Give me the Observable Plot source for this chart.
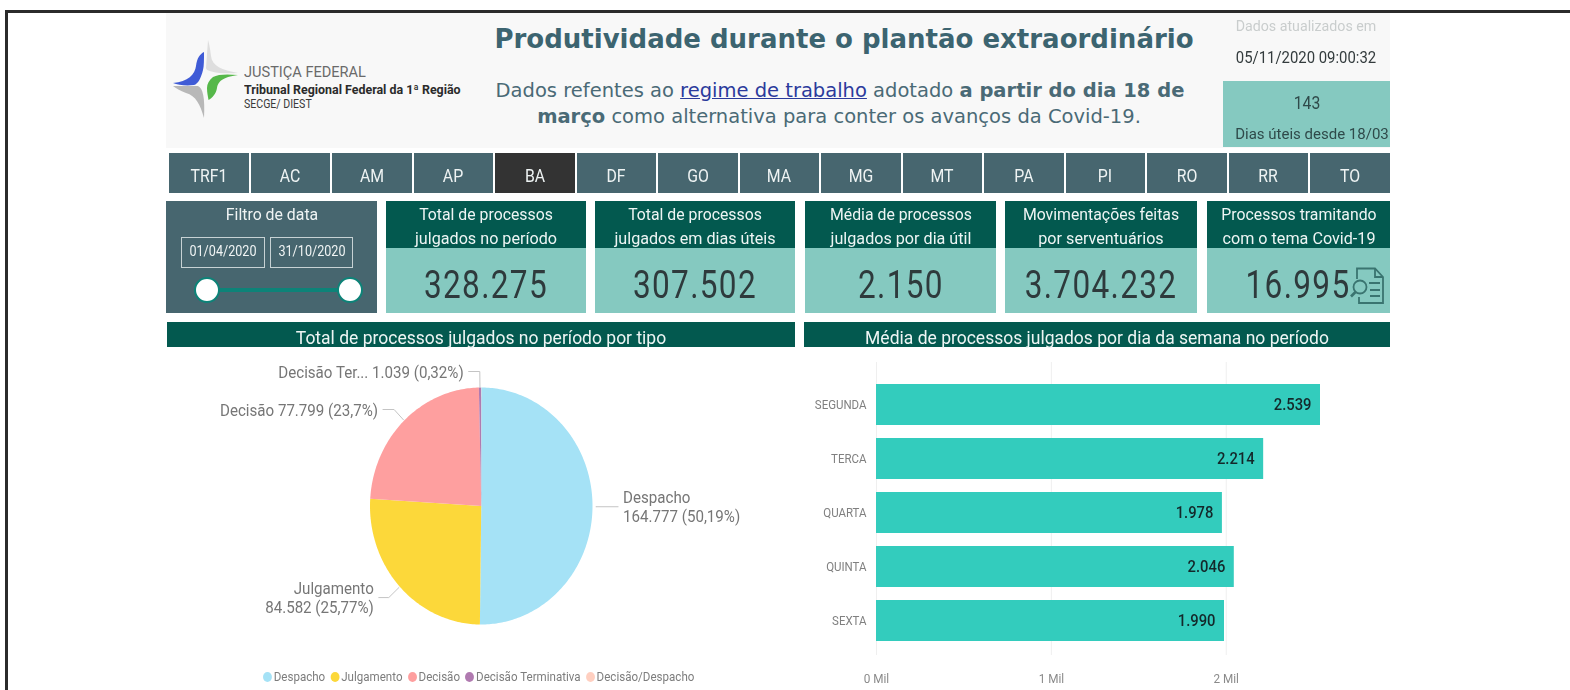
<!DOCTYPE html>
<html lang="pt">
<head>
<meta charset="utf-8">
<script src="https://cdn.jsdelivr.net/npm/d3@7"></script>
<script src="https://cdn.jsdelivr.net/npm/@observablehq/plot@0.6"></script>
<style>
html,body{margin:0;padding:0;background:#fff;overflow:hidden}
#page{position:relative;width:1570px;height:690px;overflow:hidden;font-family:"Roboto",sans-serif;filter:blur(.6px)}
.a{position:absolute}
.c{position:absolute;text-align:center;white-space:nowrap}
.plot{position:absolute}
.plot svg{background:transparent;display:block;overflow:visible}
</style>
</head>
<body>
<div id="page"></div>
<script>
// ---- data ----
const sliceNames = ["Despacho","Julgamento","Decisão","Decisão Terminativa","Decisão/Despacho"];
const sliceValues = [164777,84582,77799,1039,78];
const sliceColors = ["#a5e2f6","#fcd83a","#fe9f9f","#b07ab0","#ffcfc0"];
const sliceLabels = ["Despacho\n164.777 (50,19%)","Julgamento\n84.582 (25,77%)","Decisão 77.799 (23,7%)","Decisão Ter... 1.039 (0,32%)",""];
const days = ["SEGUNDA","TERCA","QUARTA","QUINTA","SEXTA"];
const dayValues = [2539,2214,1978,2046,1990];
const dayLabels = ["2.539","2.214","1.978","2.046","1.990"];
const tabs = ["TRF1","AC","AM","AP","BA","DF","GO","MA","MG","MT","PA","PI","RO","RR","TO"];
const cardTitles = [["Total de processos","julgados no período"],["Total de processos","julgados em dias úteis"],["Média de processos","julgados por dia útil"],["Movimentações feitas","por serventuários"],["Processos tramitando","com o tema Covid-19"]];
const cardValues = ["328.275","307.502","2.150","3.704.232","16.995"];

// ---- layout ----
const page = document.getElementById("page");
function box(x,y,w,h,bg){const d=document.createElement("div");d.className="a";d.style.cssText=`left:${x}px;top:${y}px;width:${w}px;height:${h}px;background:${bg}`;page.appendChild(d);return d;}
function text(cx,y,s,size,color,sx=1,extra=""){const d=document.createElement("div");d.className="c";d.style.cssText=`left:${cx-400}px;width:800px;top:${y}px;font-size:${size}px;line-height:${size+2}px;color:${color};transform:scaleX(${sx});${extra}`;d.innerHTML=s;page.appendChild(d);return d;}

// frame
box(5,10,1565,3,"#2b2b2b"); box(5,10,3,680,"#2b2b2b");
// header
box(166,13,1224,135,"#f8f8f8");
const serif='font-family:"DejaVu Sans",sans-serif;';
text(844,25,"Produtividade durante o plantão extraordinário",26,"#3c6470",1,serif+"font-weight:bold");
text(840,80,'Dados refentes ao <u style="color:#2b3a9c">regime de trabalho</u> adotado <b>a partir do dia 18 de</b>',19.5,"#4a6a76",1,serif);
text(839,106,'<b>março</b> como alternativa para conter os avanços da Covid-19.',19.5,"#4a6a76",1,serif);
text(1306,19,"Dados atualizados em",14.5,"#c9cdcd",.98);
text(1306,49,"05/11/2020 09:00:32",16,"#333b3d",.93);
box(1223,81,167,66,"#85c9c0");
text(1307,94,"143",17.5,"#2f4a4a",.9);
text(1312,126,"Dias úteis desde 18/03",15,"#2f4a4a");
// logo
const logo=document.createElement("div");logo.className="a";logo.style.cssText="left:170px;top:38px;width:72px;height:84px";
logo.innerHTML=`<svg width="72" height="84" viewBox="0 0 72 84">
<path d="M38 2L36 30C36 34 50 36 68 35C52 32 42 28 41 18C40 10 39 5 38 2Z" fill="#dedede"/>
<path d="M34 14C34 22 34 28 33 32C31 40 28 46 24 47C16 48 8 47 3 45C18 44 25 36 26 28C27 20 30 16 34 14Z" fill="#3f5bd6"/>
<path d="M68 37C58 36 48 36 43 39C39 42 37 46 37 50C37 55 38 58 38.5 62C42 60 46 56 47 50C48 44 52 39 68 37Z" fill="#56b84a"/>
<path d="M3 48L28 48C33 50 35 60 34 80C30 66 26 58 16 55C10 53 6 50 3 48Z" fill="#b8b8b8"/></svg>`;
page.appendChild(logo);
const lg=(y,s,size,col,sx,ex="")=>{const d=document.createElement("div");d.className="a";d.style.cssText=`left:244px;top:${y}px;font-size:${size}px;color:${col};white-space:nowrap;transform-origin:left;transform:scaleX(${sx});${ex}`;d.textContent=s;page.appendChild(d);};
lg(63,"JUSTIÇA FEDERAL",15.5,"#6a6a6a",.94);
lg(82,"Tribunal Regional Federal da 1ª Região",13,"#2b2b2b",.955,"font-weight:bold");
lg(97,"SECGE/ DIEST",12,"#3a3a3a",.88);
// tabs
tabs.forEach((t,i)=>{const x=169+i*81.5;
  box(x,153,79.8,39.5,t==="BA"?"#333333":"#47666f");
  text(x+39.8,166,t,18,"#eef3f3",.88);});
// filter card
box(166,201,211,112,"#47666f");
text(271.5,206,"Filtro de data",16.5,"#f0f4f4",.96);
[[181,84,"01/04/2020"],[270,83,"31/10/2020"]].forEach(([x,w,s])=>{const b=box(x,237,w-2,29,"transparent");b.style.border="1px solid #c7d2d4";text(x+w/2,244,s,14.5,"#f0f4f4",.87);});
box(207,288,143,4,"#0d8378");
[207,350].forEach(cx=>{const c=box(cx-13,277,26,26,"#fff");c.style.borderRadius="50%";c.style.boxSizing="border-box";c.style.border="2px solid #0d8378";});
// KPI cards
const cardX=[386,595,805,1005,1207], cardW=[200,200,191,192,183];
cardTitles.forEach((t,i)=>{const x=cardX[i],w=cardW[i],cx=x+w/2;
  box(x,201,w,47,"#03594f"); box(x,248,w,65,"#85c9c0");
  text(cx,205,t[0],17,"#eef5f4",.93); text(cx,229,t[1],17,"#eef5f4",.95);
  text(i===4?1298:cx,265,cardValues[i],38,"#2e3a3c",.83,"letter-spacing:1.6px");
});
const icon=document.createElement("div");icon.className="a";icon.style.cssText="left:1348px;top:266px;width:38px;height:40px";
icon.innerHTML=`<svg width="38" height="40" fill="none" stroke="#3a7470" stroke-width="1.8"><path d="M9 13V2.5H27L35 11V37H11V31"/><path d="M27 2.5V11H35M21 17H32M22 24H32M22 30H32"/><circle cx="12" cy="21" r="6.5"/><path d="M7.5 26L3 30.5" stroke-width="2.6"/></svg>`;
page.appendChild(icon);
// section bars
box(167,322,628,25,"#03594f"); box(804,322,586,25,"#03594f");
text(481,329,"Total de processos julgados no período por tipo",17.5,"#eef5f4");
text(1097,329,"Média de processos julgados por dia da semana no período",17.5,"#eef5f4");

// narrows every text of a Plot chart around its own anchor
function narrow(svg,sx){d3.select(svg).selectAll("text").each(function(){const t=this.getAttribute("transform")||"";this.setAttribute("transform",`${t} scale(${sx},1)`);});}

// ---- pie ----
const pieLeft=166,pieTop=350,pieW=628,pieH=340;
const arcs=d3.pie().sort(null).value((d,i)=>sliceValues[i])(sliceNames);
const wedge=[];
arcs.forEach((a,i)=>{
  wedge.push({name:sliceNames[i],px:0,py:0});
  const n=Math.max(2,Math.ceil((a.endAngle-a.startAngle)*60));
  for(let k=0;k<=n;k++){const t=a.startAngle+(a.endAngle-a.startAngle)*k/n;wedge.push({name:sliceNames[i],px:Math.sin(t),py:Math.cos(t)});}
});
const mid=arcs.map(a=>(a.startAngle+a.endAngle)/2);
// leader layout: radial reach per slice and horizontal run (in pie radii)
const reach=[1.03,1.135,1.13,1.135], run=[.2,.09,.1,.1], edge=[1.03,1.01,1.01,1.0];
const leaders=[],labels=[];
arcs.forEach((a,i)=>{
  if(!sliceLabels[i])return;
  const s=Math.sin(mid[i]),c=Math.cos(mid[i]),side=i===0?1:-1;
  const ex=reach[i]*s,ey=reach[i]*c,tx=ex+side*run[i];
  leaders.push({k:i,px:edge[i]*s,py:edge[i]*c},{k:i,px:ex,py:ey},{k:i,px:tx,py:ey});
  labels.push({t:sliceLabels[i],px:tx+side*.045,py:ey,anchor:side>0?"start":"end"});
});
const pie=Plot.plot({
  width:pieW,height:pieH,margin:0,style:{fontFamily:"Roboto"},
  x:{domain:[-1,1],range:[369.5-pieLeft,592-pieLeft],axis:null},
  y:{domain:[-1,1],range:[624-pieTop,387-pieTop],axis:null},
  color:{domain:sliceNames,range:sliceColors},
  marks:[
    Plot.line(wedge,{x:"px",y:"py",z:"name",fill:"name",stroke:null,curve:"linear"}),
    Plot.line(leaders,{x:"px",y:"py",z:"k",stroke:"#c4c4c4",strokeWidth:1}),
    ...["start","end"].map(an=>Plot.text(labels.filter(d=>d.anchor===an),{x:"px",y:"py",text:"t",textAnchor:an,fill:"#767676",fontSize:16,lineHeight:1.2}))
  ]
});
narrow(pie,.945);
const pw=document.createElement("div");pw.className="plot";pw.style.cssText=`left:${pieLeft}px;top:${pieTop}px`;pw.appendChild(pie);page.appendChild(pw);

// legend
const legend=document.createElement("div");legend.className="a";
legend.style.cssText='left:263px;top:669px;display:flex;gap:6px;font-size:13px;color:#7d7d7d;white-space:nowrap;align-items:center;transform-origin:left;transform:scaleX(.89)';
legend.innerHTML=sliceNames.map((n,i)=>`<span style="display:flex;align-items:center;gap:2px"><i style="width:10px;height:10px;border-radius:50%;background:${sliceColors[i]};display:inline-block"></i>${n}</span>`).join("");
page.appendChild(legend);

// ---- bars ----
const barLeft=800,barTop=350,barW=590,barH=340;
const rows=days.map((d,i)=>({day:d,v:dayValues[i],l:dayLabels[i]}));
const bars=Plot.plot({
  width:barW,height:barH,marginTop:12,marginBottom:35,marginLeft:76,marginRight:0,style:{fontFamily:"Roboto"},
  x:{domain:[0,2539],range:[876-barLeft,1320-barLeft]},
  y:{domain:days,range:[377.5-barTop,647.5-barTop],paddingInner:.24,paddingOuter:.12,align:.5},
  marks:[
    Plot.ruleX([0,1000,2000],{stroke:"#efefef",strokeWidth:1}),
    Plot.barX(rows,{x:"v",y:"day",fill:"#33ccbd"}),
    Plot.text(rows,{x:"v",y:"day",text:"l",textAnchor:"end",dx:-9,fill:"#14282a",fontSize:17,fontWeight:500}),
    Plot.axisY({tickSize:0,tickPadding:10,label:null,fontSize:13.2,color:"#808080"}),
    Plot.axisX({ticks:[0,1000,2000],tickFormat:d=>`${d/1000} Mil`,tickSize:0,tickPadding:18,label:null,fontSize:13.5,color:"#8a8a8a"})
  ]
});
narrow(bars,.87);
const bw=document.createElement("div");bw.className="plot";bw.style.cssText=`left:${barLeft}px;top:${barTop}px`;bw.appendChild(bars);page.appendChild(bw);
</script>
</body>
</html>
